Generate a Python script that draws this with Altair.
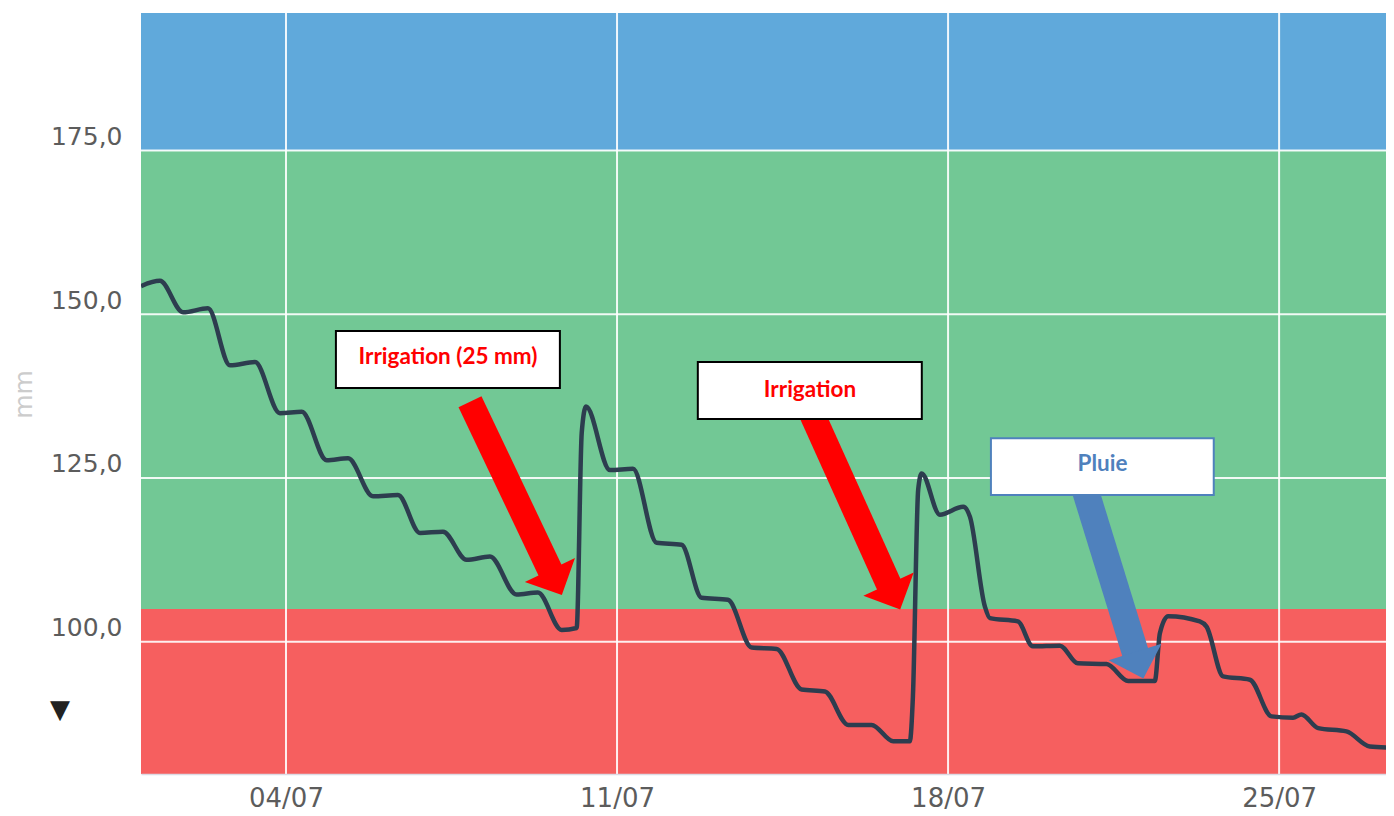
import altair as alt
import pandas as pd

# ---- soil water reserve series (mm) ----
times = [
    "2021-06-30T22:25", "2021-07-01T08:00", "2021-07-01T19:45", "2021-07-02T08:25",
    "2021-07-02T19:35", "2021-07-03T08:15", "2021-07-03T20:55", "2021-07-04T08:00",
    "2021-07-04T20:40", "2021-07-05T07:30", "2021-07-05T20:10", "2021-07-06T08:50",
    "2021-07-06T20:00", "2021-07-07T07:40", "2021-07-07T19:40", "2021-07-08T07:30",
    "2021-07-08T21:00", "2021-07-09T07:50", "2021-07-09T19:55", "2021-07-10T03:30",
    "2021-07-10T06:05", "2021-07-10T08:15", "2021-07-10T20:25", "2021-07-11T08:05",
    "2021-07-11T20:05", "2021-07-12T08:45", "2021-07-12T18:55", "2021-07-13T08:15",
    "2021-07-13T20:20", "2021-07-14T09:00", "2021-07-14T21:40", "2021-07-15T09:30",
    "2021-07-15T21:20", "2021-07-16T09:10", "2021-07-16T20:10", "2021-07-17T04:35",
    "2021-07-17T06:10", "2021-07-17T08:50", "2021-07-17T10:35", "2021-07-17T19:50",
    "2021-07-18T07:40", "2021-07-18T11:05", "2021-07-18T18:40", "2021-07-18T21:15",
    "2021-07-19T11:25", "2021-07-19T19:00", "2021-07-20T08:45", "2021-07-20T17:50",
    "2021-07-21T08:25", "2021-07-21T19:25", "2021-07-22T08:55", "2021-07-22T11:30",
    "2021-07-22T15:40", "2021-07-23T07:45", "2021-07-23T11:10", "2021-07-23T19:35",
    "2021-07-24T09:10", "2021-07-24T20:10", "2021-07-25T07:05", "2021-07-25T11:20",
    "2021-07-25T19:50", "2021-07-26T10:10", "2021-07-26T22:00", "2021-07-27T09:50",
]
values = [
    154.3, 155.1, 150.3, 150.9,
    142.2, 142.7, 134.9, 135.1,
    127.7, 128.0, 122.2, 122.4,
    116.6, 116.8, 112.5, 113.0,
    107.2, 107.5, 101.8, 102.1,
    131.9, 135.9, 126.2, 126.4,
    115.1, 114.8, 106.7, 106.4,
    99.1, 98.9, 92.7, 92.4,
    87.3, 87.3, 84.8, 84.8,
    91.7, 123.2, 125.7, 119.4,
    120.6, 119.1, 105.4, 103.6,
    103.1, 99.3, 99.4, 96.7,
    96.6, 94.0, 94.0, 101.3,
    103.9, 103.1, 102.3, 94.7,
    94.2, 88.6, 88.4, 88.9,
    86.8, 86.3, 84.0, 83.8,
]

# ---- background zones ----
band_low = [79.8, 105.0, 175.0]
band_high = [105.0, 175.0, 196.0]
band_color = ["#f65f5f", "#72c895", "#60a9db"]

# ---- ticks ----
y_ticks = [100, 125, 150, 175]
x_ticks = ["2021-07-04T00:00", "2021-07-11T00:00", "2021-07-18T00:00", "2021-07-25T00:00"]
x_tick_dates = [4, 11, 18, 25]

# ---- annotations ----
box_x1 = ["2021-07-05T01:20", "2021-07-12T17:00", "2021-07-18T21:45"]
box_x2 = ["2021-07-09T19:00", "2021-07-17T10:40", "2021-07-23T14:50"]
box_top = [147.44, 142.72, 131.07]
box_bottom = [138.74, 134.0, 122.4]
box_stroke = ["#000000", "#000000", "#4f81bd"]
label_text = ["Irrigation (25 mm)", "Irrigation", "Pluie"]
label_t = ["2021-07-07T10:13", "2021-07-15T01:55", "2021-07-21T06:23"]
label_v = [143.47, 138.43, 127.13]
label_color = ["#ff0000", "#ff0000", "#4f81bd"]

arrow_t1 = ["2021-07-07T21:23", "2021-07-15T03:11", "2021-07-20T21:55"]
arrow_v1 = [136.65, 134.62, 122.86]
arrow_t2 = ["2021-07-09T16:58", "2021-07-16T20:45", "2021-07-22T01:00"]
arrow_v2 = [109.04, 106.86, 96.41]
arrow_angle = [334.6, 335.2, 342.5]
arrow_width = [25.4, 25.8, 27.0]
arrow_color = ["#ff0000", "#ff0000", "#4f81bd"]

marker_v = [89.6]

# ---- tables ----
line_df = pd.DataFrame({"t": times, "v": values})
band_df = pd.DataFrame({"lo": band_low, "hi": band_high, "c": band_color})
ygrid_df = pd.DataFrame({"v": y_ticks})
xgrid_df = pd.DataFrame({"t": x_ticks})
box_df = pd.DataFrame({"t1": box_x1, "t2": box_x2, "v1": box_top, "v2": box_bottom, "s": box_stroke})
label_df = pd.DataFrame({"t": label_t, "v": label_v, "txt": label_text, "c": label_color})
arrow_df = pd.DataFrame({"t1": arrow_t1, "v1": arrow_v1, "t2": arrow_t2, "v2": arrow_v2,
                         "a": arrow_angle, "w": arrow_width, "c": arrow_color})
marker_df = pd.DataFrame({"v": marker_v})

xs = alt.Scale(domain=[alt.DateTime(year=2021, month=6, date=30, hours=22, minutes=25),
                       alt.DateTime(year=2021, month=7, date=27, hours=6, minutes=15)])
ys = alt.Scale(domain=[79.8, 196.0], nice=False, zero=False)

FONT = "DejaVu Sans"

x_axis = alt.Axis(
    values=[alt.DateTime(year=2021, month=7, date=d) for d in x_tick_dates],
    format="%d/%m", labelFont=FONT, labelFontSize=26, labelColor="#5c5c5c",
    labelPadding=11, ticks=False, grid=False, domain=True, domainColor="#dcdae4",
    domainWidth=1.5, zindex=1, title=None, labelFlush=False, labelOverlap=False,
)
y_axis = alt.Axis(
    values=y_ticks, labelExpr="replace(format(datum.value, '.1f'), '.', ',')",
    labelFont=FONT, labelFontSize=25, labelColor="#5c5c5c", labelPadding=19,
    labelBaseline="alphabetic", labelOffset=-6,
    ticks=False, grid=False, domain=False,
    title="mm", titleFont=FONT, titleColor="#cccccc", titleFontSize=25,
    titleFontWeight="normal", titleX=-118, titleY=381, titleAngle=270,
    titleAlign="center", titleBaseline="middle",
)


def X(field):
    return alt.X(field, scale=xs, axis=x_axis)


def Y(field):
    return alt.Y(field, scale=ys, axis=y_axis)


bands = alt.Chart(band_df).mark_rect().encode(
    y=Y("lo:Q"), y2="hi:Q",
    fill=alt.Fill("c:N", scale=None),
)
hgrid = alt.Chart(ygrid_df).mark_rule(color="white", strokeWidth=2, opacity=0.9).encode(
    y=Y("v:Q")
)
vgrid = alt.Chart(xgrid_df).mark_rule(color="white", strokeWidth=2, opacity=0.9).encode(
    x=X("t:T")
)
line = alt.Chart(line_df).mark_line(
    interpolate="monotone", color="#2d3d4f", strokeWidth=4.5, clip=True
).encode(
    x=X("t:T"),
    y=Y("v:Q"),
)
shafts = alt.Chart(arrow_df).mark_rule(strokeCap="butt").encode(
    x=X("t1:T"), x2="t2:T",
    y=Y("v1:Q"), y2="v2:Q",
    color=alt.Color("c:N", scale=None),
    strokeWidth=alt.StrokeWidth("w:Q", scale=None),
)
heads = alt.Chart(arrow_df).mark_point(
    shape="M-1,-0.5L1,-0.5L0,0.5Z", filled=True, size=3080, opacity=1, strokeWidth=0
).encode(
    x=X("t2:T"),
    y=Y("v2:Q"),
    color=alt.Color("c:N", scale=None),
    angle=alt.Angle("a:Q", scale=None),
)
boxes = alt.Chart(box_df).mark_rect(fill="white", strokeWidth=2).encode(
    x=X("t1:T"), x2="t2:T",
    y=Y("v1:Q"), y2="v2:Q",
    stroke=alt.Stroke("s:N", scale=None),
)
labels = alt.Chart(label_df).mark_text(
    font="Lato", fontWeight="bold", fontSize=22.5, align="center", baseline="middle"
).encode(
    x=X("t:T"),
    y=Y("v:Q"),
    text="txt:N",
    color=alt.Color("c:N", scale=None),
)
marker = alt.Chart(marker_df).mark_text(
    text="\u25bc", fontSize=26, color="#222222", font=FONT
).encode(
    x=alt.value(-81),
    y=Y("v:Q"),
)

chart = alt.layer(
    bands, hgrid, vgrid, line, shafts, heads, boxes, labels, marker
).properties(
    width=1245, height=761,
    autosize=alt.AutoSizeParams(type="none"),
    padding={"left": 133, "top": 5, "right": 0, "bottom": 40},
).configure_view(stroke=None).configure_axis(grid=False, ticks=False)

chart.save("out.html", embed_options={"renderer": "svg", "actions": False})
